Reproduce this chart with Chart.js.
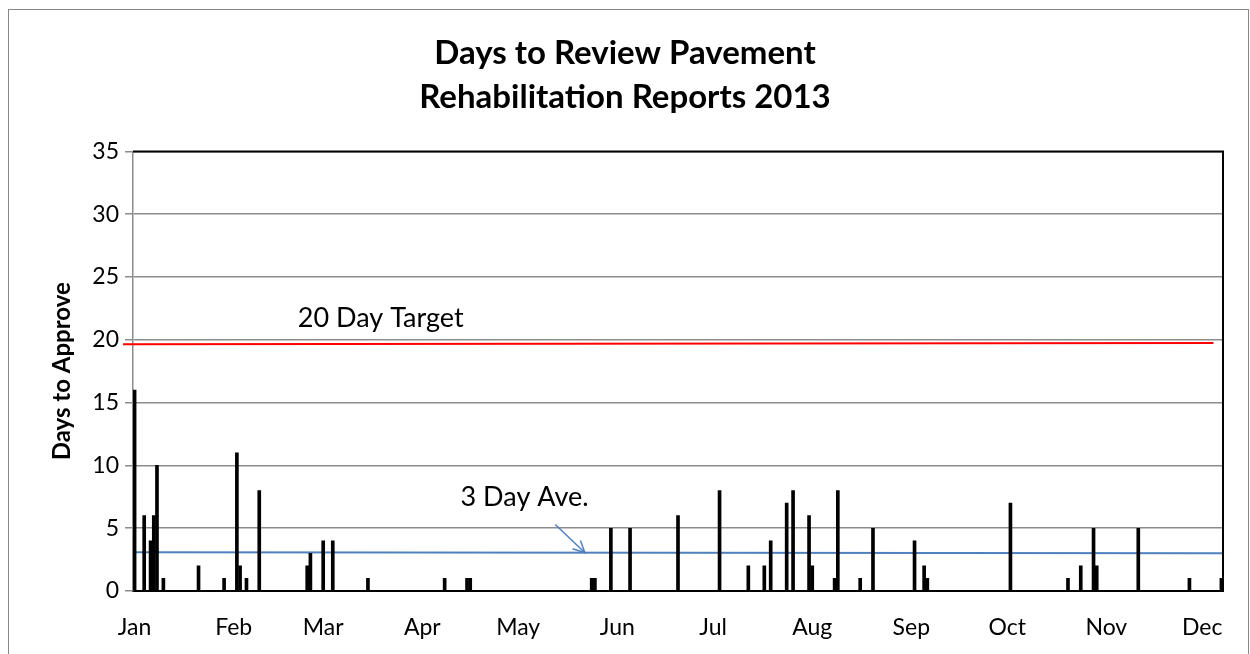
<!DOCTYPE html>
<html>
<head>
<meta charset="utf-8">
<title>Days to Review Pavement Rehabilitation Reports 2013</title>
<script src="https://cdn.jsdelivr.net/npm/chart.js@4.4.0/dist/chart.umd.min.js"></script>
<style>
  html, body { margin: 0; padding: 0; background: #fff; }
  #wrap { position: relative; width: 1250px; height: 654px; }
</style>
</head>
<body>
<div id="wrap"><canvas id="reviewChart"></canvas></div>
<script>
// report date as day of year (0 = Jan 1, 2013) and days taken to approve it
const reportDays = [0, 3, 5, 6, 7, 9, 20, 28, 32, 33, 35, 39, 54, 55, 59, 62, 73,
  97, 104, 105, 143, 144, 149, 155, 170, 183, 192, 197, 199, 204, 206, 211, 212,
  219, 220, 227, 231, 244, 247, 248, 274, 292, 296, 300, 301, 314, 330, 340];
const daysToApprove = [16, 6, 4, 6, 10, 1, 2, 1, 11, 2, 1, 8, 2, 3, 4, 4, 1,
  1, 1, 1, 1, 1, 5, 5, 6, 8, 2, 2, 4, 7, 8, 6, 2,
  1, 8, 1, 5, 4, 2, 1, 7, 1, 2, 5, 2, 5, 1, 1];

// x axis: first day of each month
const monthStarts = [0, 31, 59, 90, 120, 151, 181, 212, 243, 273, 304, 334];
const monthLabels = ['Jan', 'Feb', 'Mar', 'Apr', 'May', 'Jun', 'Jul', 'Aug', 'Sep', 'Oct', 'Nov', 'Dec'];

// reference lines (hand drawn in the original, so slightly tilted)
const targetX = [-3.6, 337.5];
const targetY = [19.65, 19.75];
const aveX = [-0.5, 340.5];
const aveY = [3.08, 3.0];

// callouts, in data units
const targetNote = { text: '20 Day Target', x: 77, y: 21.7 };
const aveNote = { text: '3 Day Ave.', x: 122, y: 7.45 };
const aveArrow = { x1: 131.6, y1: 5.3, x2: 140.9, y2: 3.05 };

const FONT = 'Lato';

const toPoints = (xs, ys) => xs.map((x, i) => ({ x: x, y: ys[i] }));

const extrasPlugin = {
  id: 'extras',
  beforeDraw(chart) {
    const ctx = chart.ctx;
    ctx.save();
    ctx.fillStyle = '#fff';
    ctx.fillRect(0, 0, chart.width, chart.height);
    ctx.restore();
  },
  afterDraw(chart) {
    const { ctx, chartArea: a, scales: { x, y } } = chart;
    ctx.save();

    // plot area frame, top and right
    ctx.strokeStyle = '#000';
    ctx.lineWidth = 2;
    ctx.beginPath();
    ctx.moveTo(a.left, a.top);
    ctx.lineTo(a.right, a.top);
    ctx.lineTo(a.right, a.bottom);
    ctx.stroke();

    // chart frame
    ctx.strokeStyle = '#878787';
    ctx.lineWidth = 1;
    ctx.strokeRect(8.5, 9.5, 1240, 660);

    // callout texts
    ctx.fillStyle = '#000';
    ctx.font = '27px ' + FONT;
    ctx.textAlign = 'center';
    ctx.textBaseline = 'middle';
    ctx.fillText(targetNote.text, x.getPixelForValue(targetNote.x), y.getPixelForValue(targetNote.y));
    ctx.fillText(aveNote.text, x.getPixelForValue(aveNote.x), y.getPixelForValue(aveNote.y));

    // arrow to the average line
    const x1 = x.getPixelForValue(aveArrow.x1), y1 = y.getPixelForValue(aveArrow.y1);
    const x2 = x.getPixelForValue(aveArrow.x2), y2 = y.getPixelForValue(aveArrow.y2);
    const ang = Math.atan2(y2 - y1, x2 - x1);
    ctx.strokeStyle = '#4f81bd';
    ctx.lineWidth = 1.5;
    ctx.beginPath();
    ctx.moveTo(x1, y1);
    ctx.lineTo(x2, y2);
    ctx.moveTo(x2 - 13 * Math.cos(ang - 0.45), y2 - 13 * Math.sin(ang - 0.45));
    ctx.lineTo(x2, y2);
    ctx.lineTo(x2 - 13 * Math.cos(ang + 0.45), y2 - 13 * Math.sin(ang + 0.45));
    ctx.stroke();
    ctx.restore();
  }
};

new Chart(document.getElementById('reviewChart'), {
  type: 'bar',
  data: {
    datasets: [
      {
        type: 'bar',
        label: 'Days to Approve',
        data: toPoints(reportDays, daysToApprove),
        backgroundColor: '#000',
        barThickness: 3,
        order: 1
      },
      {
        type: 'line',
        label: '20 Day Target',
        data: toPoints(targetX, targetY),
        borderColor: '#ff0000',
        borderWidth: 2,
        pointRadius: 0,
        clip: false,
        order: 2
      },
      {
        type: 'line',
        label: '3 Day Ave.',
        data: toPoints(aveX, aveY),
        borderColor: '#4f81bd',
        borderWidth: 2,
        pointRadius: 0,
        order: 2
      }
    ]
  },
  options: {
    responsive: true,
    maintainAspectRatio: false,
    animation: false,
    layout: { padding: { top: 31, right: 27, bottom: 0, left: 27 } },
    plugins: {
      legend: { display: false },
      tooltip: { enabled: false },
      title: {
        display: true,
        text: ['Days to Review Pavement', 'Rehabilitation Reports 2013'],
        color: '#000',
        font: { family: FONT, size: 33, weight: 'bold', lineHeight: 1.34 },
        padding: { top: 0, bottom: 32 }
      }
    },
    scales: {
      x: {
        type: 'linear',
        offset: false,
        min: -0.5,
        max: 340.5,
        afterBuildTicks(scale) {
          scale.ticks = monthStarts.map(v => ({ value: v }));
        },
        ticks: {
          autoSkip: false,
          maxRotation: 0,
          color: '#000',
          font: { family: FONT, size: 23 },
          padding: 23,
          callback: (v, i) => monthLabels[i]
        },
        grid: { display: false, drawTicks: false },
        border: { color: '#000', width: 2 },
        afterFit(scale) { scale.height = 63; }
      },
      y: {
        min: 0,
        max: 35,
        ticks: {
          stepSize: 5,
          color: '#000',
          font: { family: FONT, size: 23 },
          padding: 6
        },
        grid: { color: '#8c8c8c', lineWidth: 1.5, tickLength: 8, drawTicks: true },
        border: { color: '#8c8c8c', width: 1.5 },
        title: {
          display: true,
          text: 'Days to Approve',
          color: '#000',
          font: { family: FONT, size: 24, weight: 'bold' },
          padding: { top: 21, bottom: 0 }
        },
        afterFit(scale) { scale.width = 106; }
      }
    }
  },
  plugins: [extrasPlugin]
});
</script>
</body>
</html>
